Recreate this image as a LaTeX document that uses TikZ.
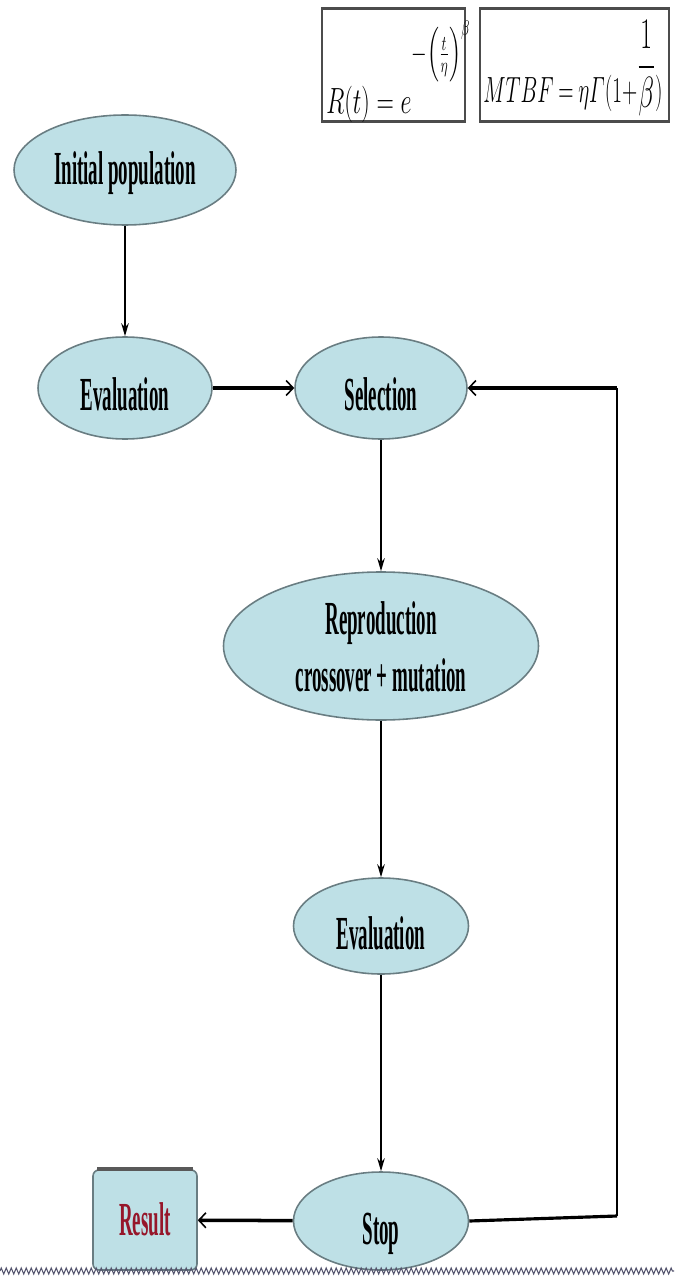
\documentclass[tikz,border=0pt]{standalone}
\usepackage{amsmath}
\usepackage{graphicx}
\usepackage{fontspec}
\usepackage{xcolor}
\usetikzlibrary{arrows.meta}
\usetikzlibrary{shapes.geometric}
\usetikzlibrary{decorations.pathmorphing}
\newfontfamily\gafont[FakeStretch=0.4]{Liberation Serif}
\definecolor{gafill}{RGB}{190,224,230}
\definecolor{gaedge}{RGB}{105,125,130}
\definecolor{garesult}{RGB}{150,22,42}
\definecolor{gazig}{RGB}{85,85,110}
\tikzset{
  gaell/.style={ellipse, draw=gaedge, fill=gafill, line width=0.9pt, inner sep=0pt,
    font=\gafont\bfseries\fontsize{27}{33}\selectfont, text height=0.92cm, text depth=0pt},
  gabox/.style={rectangle, rounded corners=0.12cm, draw=gaedge, fill=gafill, line width=0.9pt, inner sep=0pt,
    font=\gafont\bfseries\fontsize{27}{33}\selectfont, text=garesult, text height=0.6cm, text depth=0pt},
  formbox/.style={draw=black!70, line width=0.8pt, inner sep=0pt},
  thinarrow/.style={line width=0.8pt, -{Stealth[length=0.26cm,width=0.15cm]}},
  thickarrow/.style={line width=2pt, -{Straight Barb[length=0.14cm,width=0.3cm,line width=0.9pt]}}
}
\begin{document}
\begin{tikzpicture}[x=0.02cm,y=-0.02cm]
    \newcommand{\figgaunit}{0.02cm}
    \newcommand{\figgaleftx}{125}
    \newcommand{\figgacolx}{381}
    \newcommand{\figgarowy}{388}
    \newcommand{\figgafbx}{617}
    \useasboundingbox (0,0) rectangle (674,1287);
    % formulas
    \node[formbox, minimum width=143*\figgaunit, minimum height=112*\figgaunit] (relbox) at (393.5,65) {};
    \node[formbox, minimum width=189*\figgaunit, minimum height=112*\figgaunit] (mtbfbox) at (574.5,65) {};
    \draw[line width=1.6pt, black!70] (relbox.north west) -- (relbox.north east);
    \draw[line width=1.8pt, black!70] (relbox.south west) -- (relbox.south east);
    \draw[line width=1.6pt, black!70] (mtbfbox.north west) -- (mtbfbox.north east);
    \draw[line width=1.8pt, black!70] (mtbfbox.south west) -- (mtbfbox.south east);
    \node[anchor=base west, inner sep=0pt] (relform) at (326,114)
        {\scalebox{0.66}[1]{\fontsize{20}{24}\selectfont$R(t)=e$\raisebox{1.04cm}{\fontsize{18}{20}\selectfont$-\Big(\frac{t}{\eta}\Big)^{\beta}$}}};
    \node[anchor=base west, inner sep=0pt] (mtbfform) at (483,103)
        {\scalebox{0.58}[1]{\fontsize{20}{24}\selectfont\thickmuskip=4mu\medmuskip=3mu$MTBF=\eta\varGamma(1+$\raisebox{0.5cm}{\fontsize{28}{30}\selectfont$\dfrac{1}{\beta}$}$)$}};
    % flow
    \node[gaell, minimum width=222*\figgaunit, minimum height=110*\figgaunit, text height=0.6cm] (initpop) at (\figgaleftx,170) {Initial population};
    \node[gaell, minimum width=174*\figgaunit, minimum height=102*\figgaunit] (evalone) at (\figgaleftx,\figgarowy) {Evaluation};
    \node[gaell, minimum width=172*\figgaunit, minimum height=102*\figgaunit] (select) at (\figgacolx,\figgarowy) {Selection};
    \node[gaell, minimum width=315*\figgaunit, minimum height=148*\figgaunit, align=center,
        text height=1.84cm, text depth=-0.6cm] (reprod) at (\figgacolx,646) {Reproduction\\crossover + mutation};
    \node[gaell, minimum width=175*\figgaunit, minimum height=96*\figgaunit] (evaltwo) at (\figgacolx,926) {Evaluation};
    \node[gaell, minimum width=175*\figgaunit, minimum height=98*\figgaunit] (stop) at (\figgacolx,1221) {Stop};
    \node[gabox, minimum width=104*\figgaunit, minimum height=100*\figgaunit] (result) at (145,1220) {Result};
    \draw[line width=2pt, gray!70!black] ([xshift=0.1cm]result.north west) -- ([xshift=-0.1cm]result.north east);
    \draw[thinarrow] (initpop) -- (evalone);
    \draw[thickarrow] (evalone) -- (select);
    \draw[thinarrow] (select) -- (reprod);
    \draw[thinarrow] (reprod) -- (evaltwo);
    \draw[thinarrow] (evaltwo) -- (stop);
    \draw[thickarrow] (stop) -- (result);
    % loop back
    \coordinate (fbbot) at (\figgafbx,1216);
    \coordinate (fbtop) at (\figgafbx,\figgarowy);
    \draw[line width=1.8pt] (stop.east) -- (fbbot);
    \draw[line width=1.1pt] (fbbot) -- (fbtop);
    \draw[thickarrow] (fbtop) -- (select.east);
    % bottom edge
    \coordinate (zigl) at (0,1271);
    \coordinate (zigr) at (674,1271);
    \draw[gazig, line width=0.6pt, decorate, decoration={zigzag, segment length=0.1cm, amplitude=0.06cm}] (zigl) -- (zigr);
\end{tikzpicture}
\end{document}
